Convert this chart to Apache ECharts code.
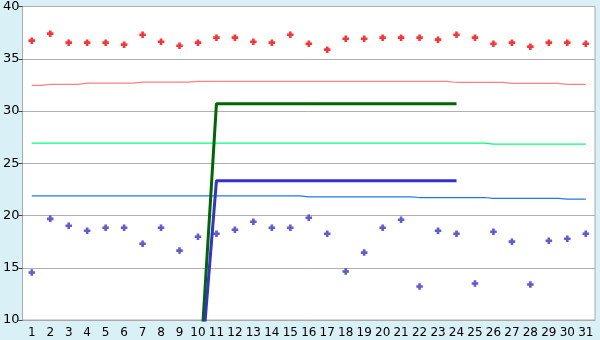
<!DOCTYPE html>
<html><head><meta charset="utf-8">
<script src="https://cdn.jsdelivr.net/npm/echarts@6/dist/echarts.min.js"></script>
<style>html,body{margin:0;padding:0;background:#d9f0f7;}#c{width:600px;height:340px;}</style>
</head><body><div id="c"></div>
<script>
var categories = ['1','2','3','4','5','6','7','8','9','10','11','12','13','14','15','16','17','18','19','20','21','22','23','24','25','26','27','28','29','30','31'];
var redPts = [36.73,37.40,36.54,36.54,36.54,36.35,37.30,36.63,36.25,36.54,37.02,37.02,36.63,36.54,37.30,36.44,35.87,36.92,36.92,37.02,37.02,37.02,36.83,37.30,37.02,36.44,36.54,36.16,36.54,36.54,36.44];
var bluePts = [14.54,19.68,19.02,18.54,18.83,18.83,17.30,18.83,16.64,17.97,18.26,18.64,19.40,18.83,18.83,19.78,18.26,14.64,16.45,18.83,19.59,13.21,18.54,18.26,13.50,18.45,17.50,13.40,17.59,17.78,18.26];
var pinkLine = [32.45,32.54,32.54,32.67,32.67,32.67,32.76,32.76,32.76,32.83,32.83,32.83,32.83,32.83,32.83,32.83,32.83,32.83,32.83,32.83,32.83,32.83,32.83,32.73,32.73,32.73,32.64,32.64,32.64,32.54,32.54];
var greenLine = [26.92,26.92,26.92,26.92,26.92,26.92,26.92,26.92,26.92,26.92,26.92,26.92,26.92,26.92,26.92,26.92,26.92,26.92,26.92,26.92,26.92,26.92,26.92,26.92,26.92,26.83,26.83,26.83,26.83,26.83,26.83];
var lblueLine = [21.88,21.88,21.88,21.88,21.88,21.88,21.88,21.88,21.88,21.88,21.88,21.88,21.88,21.88,21.88,21.79,21.79,21.79,21.79,21.79,21.79,21.72,21.72,21.72,21.72,21.64,21.64,21.64,21.64,21.57,21.57];
var darkGreen = [null,null,null,null,null,null,null,null,null,2,30.70,30.70,30.70,30.70,30.70,30.70,30.70,30.70,30.70,30.70,30.70,30.70,30.70,30.70,null,null,null,null,null,null,null];
var blueThick = [null,null,null,null,null,null,null,null,null,1.5,23.33,23.33,23.33,23.33,23.33,23.33,23.33,23.33,23.33,23.33,23.33,23.33,23.33,23.33,null,null,null,null,null,null,null];
var yTicks = {min:10, max:40, interval:5};

var plus = 'path://M2.1,0h2.8v2.1h2.1v2.8h-2.1v2.1h-2.8v-2.1h-2.1v-2.8h2.1z';
var chart = echarts.init(document.getElementById('c'), null, {renderer:'canvas'});
function stepSeries(d,c){return {type:'line',data:d,step:'middle',symbol:'none',lineStyle:{color:c,width:1.2},z:2};}
chart.setOption({
  animation:false,
  backgroundColor:'#d9f0f7',
  grid:{left:20,right:5,top:5,bottom:20,show:true,backgroundColor:'#ffffff',borderColor:'#aaaaaa',borderWidth:1},
  xAxis:{type:'category',data:categories,boundaryGap:true,
    axisLine:{lineStyle:{color:'#aaaaaa',width:1}},
    axisTick:{alignWithLabel:true,length:5,lineStyle:{color:'#444'}},
    axisLabel:{color:'#000',fontFamily:'DejaVu Sans',fontSize:12,margin:7,interval:0},
    splitLine:{show:false}},
  yAxis:{type:'value',min:yTicks.min,max:yTicks.max,interval:yTicks.interval,
    axisLine:{show:true,lineStyle:{color:'#aaaaaa',width:1}},
    axisTick:{show:true,length:4,lineStyle:{color:'#444'}},
    axisLabel:{color:'#000',fontFamily:'DejaVu Sans',fontSize:13,margin:3},
    splitLine:{lineStyle:{color:'#b0b0b0',width:1}}},
  series:[
    stepSeries(pinkLine,'#ff8080'),
    stepSeries(greenLine,'#00ff80'),
    stepSeries(lblueLine,'#1f7ae8'),
    {type:'line',data:darkGreen,symbol:'none',lineStyle:{color:'#006600',width:3},z:3},
    {type:'line',data:blueThick,symbol:'none',lineStyle:{color:'#3333cc',width:3},z:3},
    {type:'scatter',data:redPts,symbol:plus,symbolSize:6.5,itemStyle:{color:'#ff0000'},z:4},
    {type:'scatter',data:bluePts,symbol:plus,symbolSize:6.5,itemStyle:{color:'#3333cc'},z:4}
  ]
});
</script></body></html>
